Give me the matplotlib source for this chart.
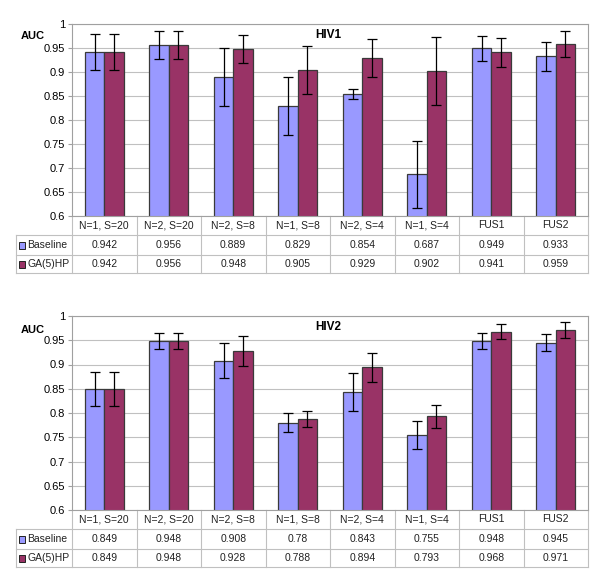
import matplotlib.pyplot as plt
import matplotlib.transforms as mtransforms
import numpy as np

# categories and values
categories = ['N=1, S=20', 'N=2, S=20', 'N=2, S=8', 'N=1, S=8',
              'N=2, S=4', 'N=1, S=4', 'FUS1', 'FUS2']
series_names = ['Baseline', 'GA(5)HP']

hiv1_base = [0.942, 0.956, 0.889, 0.829, 0.854, 0.687, 0.949, 0.933]
hiv1_ga = [0.942, 0.956, 0.948, 0.905, 0.929, 0.902, 0.941, 0.959]
hiv1_base_err = [0.038, 0.029, 0.060, 0.060, 0.010, 0.070, 0.026, 0.030]
hiv1_ga_err = [0.038, 0.029, 0.030, 0.050, 0.040, 0.070, 0.030, 0.027]
hiv1_base_lbl = ['0.942', '0.956', '0.889', '0.829', '0.854', '0.687', '0.949', '0.933']
hiv1_ga_lbl = ['0.942', '0.956', '0.948', '0.905', '0.929', '0.902', '0.941', '0.959']

hiv2_base = [0.849, 0.948, 0.908, 0.780, 0.843, 0.755, 0.948, 0.945]
hiv2_ga = [0.849, 0.948, 0.928, 0.788, 0.894, 0.793, 0.968, 0.971]
hiv2_base_err = [0.035, 0.016, 0.036, 0.019, 0.039, 0.029, 0.017, 0.018]
hiv2_ga_err = [0.035, 0.016, 0.031, 0.017, 0.030, 0.024, 0.015, 0.016]
hiv2_base_lbl = ['0.849', '0.948', '0.908', '0.78', '0.843', '0.755', '0.948', '0.945']
hiv2_ga_lbl = ['0.849', '0.948', '0.928', '0.788', '0.894', '0.793', '0.968', '0.971']

yticks = [0.6, 0.65, 0.7, 0.75, 0.8, 0.85, 0.9, 0.95, 1.0]
ytick_labels = ['0.6', '0.65', '0.7', '0.75', '0.8', '0.85', '0.9', '0.95', '1']

colors = ['#9999FF', '#993366']
grid_col = '#C0C0C0'
frame_col = '#A0A0A0'

W, H = 600, 585
fig = plt.figure(figsize=(W / 100, H / 100), dpi=100)
plt.rcParams['font.family'] = ['Liberation Sans', 'DejaVu Sans']


def draw_panel(top, bottom, title, base, ga, base_err, ga_err, base_lbl, ga_lbl,
               auc_y):
    left, right = 72, 588
    ax = fig.add_axes([left / W, 1 - bottom / H, (right - left) / W, (bottom - top) / H])
    hpx = bottom - top
    x = np.arange(len(categories))
    bw = 0.3
    for vals, errs, col, off in [(base, base_err, colors[0], -bw / 2),
                                 (ga, ga_err, colors[1], bw / 2)]:
        ax.bar(x + off, vals, bw, bottom=0, color=col, edgecolor='#3a3a3a',
               linewidth=0.9, zorder=2)
        ax.errorbar(x + off, vals, yerr=errs, fmt='none', ecolor='black',
                    elinewidth=0.9, capsize=3.5, capthick=0.9, zorder=3)
    ax.set_xlim(-0.5, len(categories) - 0.5)
    ax.set_ylim(0.6, 1.0)
    ax.set_yticks(yticks)
    ax.set_yticklabels(ytick_labels, fontsize=8)
    ax.set_xticks([])
    ax.yaxis.grid(True, color=grid_col, linewidth=0.8)
    ax.set_axisbelow(True)
    for s in ax.spines.values():
        s.set_color(frame_col)
        s.set_linewidth(0.8)
    ax.tick_params(axis='y', length=3, color=frame_col, pad=2)
    ax.text(-0.1, auc_y, 'AUC', transform=ax.transAxes, fontsize=8,
            fontweight='bold', ha='left', va='center')
    ax.text(0.471, 0.945, title, transform=ax.transAxes, fontsize=8.5,
            fontweight='bold', ha='left', va='center')

    # table under the plot
    tr = mtransforms.blended_transform_factory(ax.transData, ax.transAxes)
    row_px = [0, 19, 39, 57]
    ys = [-p / hpx for p in row_px]
    leg_left = -0.5 - (left - 16) * len(categories) / (right - left)
    line_kw = dict(color=grid_col, linewidth=0.8, transform=tr, clip_on=False)
    for i in range(len(categories) + 1):
        ax.plot([i - 0.5, i - 0.5], [0, ys[-1]], **line_kw)
    for yy in ys[1:]:
        ax.plot([leg_left, len(categories) - 0.5], [yy, yy], **line_kw)
    ax.plot([leg_left, leg_left], [ys[1], ys[-1]], **line_kw)
    for i, cat in enumerate(categories):
        ax.text(i, (ys[0] + ys[1]) / 2, cat, transform=tr, ha='center',
                va='center', fontsize=7.5, color='#222222')
        ax.text(i, (ys[1] + ys[2]) / 2, base_lbl[i], transform=tr, ha='center',
                va='center', fontsize=7.5, color='#222222')
        ax.text(i, (ys[2] + ys[3]) / 2, ga_lbl[i], transform=tr, ha='center',
                va='center', fontsize=7.5, color='#222222')
    sw = 6 * len(categories) / (right - left)
    for r, (name, col) in enumerate(zip(series_names, colors)):
        yc = (ys[r + 1] + ys[r + 2]) / 2
        ax.add_patch(plt.Rectangle((leg_left + 0.04, yc - 3.5 / hpx), sw, 7 / hpx,
                                   facecolor=col, edgecolor='#222222', linewidth=0.7,
                                   transform=tr, clip_on=False))
        ax.text(leg_left + 0.04 + sw + 0.04, yc, name, transform=tr, ha='left',
                va='center', fontsize=7.5, color='#222222')
    return ax


draw_panel(24, 216, 'HIV1', hiv1_base, hiv1_ga, hiv1_base_err, hiv1_ga_err,
           hiv1_base_lbl, hiv1_ga_lbl, 0.937)
draw_panel(316, 510, 'HIV2', hiv2_base, hiv2_ga, hiv2_base_err, hiv2_ga_err,
           hiv2_base_lbl, hiv2_ga_lbl, 0.93)

fig.savefig('out.png', dpi=100)
